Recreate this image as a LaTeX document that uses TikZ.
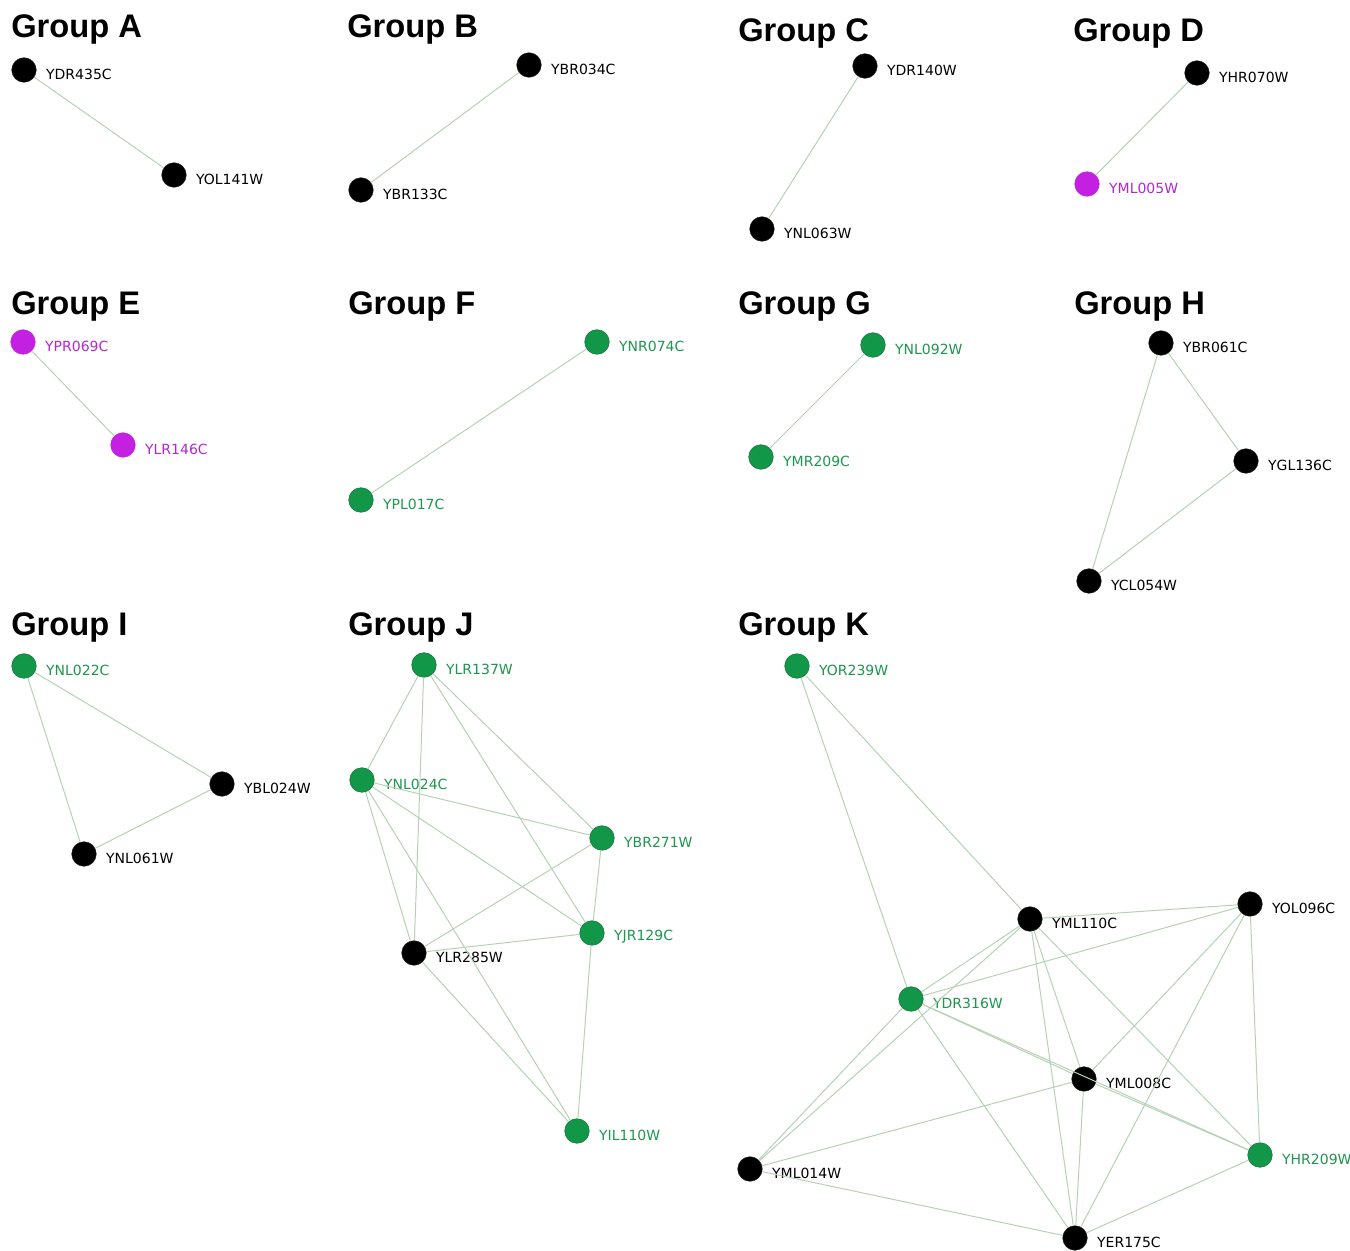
\documentclass[tikz,border=0pt]{standalone}
\usepackage{fontspec}
\setmainfont{Liberation Sans}
\newfontfamily\labfont{DejaVu Sans}
\definecolor{ecol}{RGB}{182,210,182}
\definecolor{gfill}{RGB}{18,150,72}
\definecolor{gtext}{RGB}{30,150,80}
\definecolor{mfill}{RGB}{196,32,226}
\definecolor{mtext}{RGB}{180,40,210}
\tikzset{
  nd/.style={circle, minimum size=18.5pt, inner sep=0pt, draw=black!85, line width=0.3pt},
  lab/.style={font=\labfont\fontsize{10.5}{12}\selectfont, inner sep=0pt, label distance=7pt, yshift=-3pt},
  blk/.style={nd, fill=black, label={[lab, text=black]right:#1}},
  grn/.style={nd, fill=gfill, draw=gfill!70!black, label={[lab, text=gtext]right:#1}},
  mag/.style={nd, fill=mfill, draw=mfill, label={[lab, text=mtext]right:#1}},
  ttl/.style={font=\bfseries\fontsize{24.5}{28}\selectfont, anchor=base west, inner sep=0pt},
  ed/.style={draw=ecol, line width=0.75pt}
}
\begin{document}
\begin{tikzpicture}[x=0.75pt, y=-0.75pt]
\useasboundingbox[fill=white] (0,0) rectangle (1350,1251);
% titles
\node[ttl] (tA) at (11,38) {Group A};
\node[ttl] (tB) at (347,38) {Group B};
\node[ttl] (tC) at (738,42) {Group C};
\node[ttl] (tD) at (1073,42) {Group D};
\node[ttl] (tE) at (11,315) {Group E};
\node[ttl] (tF) at (348,315) {Group F};
\node[ttl] (tG) at (738,315) {Group G};
\node[ttl] (tH) at (1074,315) {Group H};
\node[ttl] (tI) at (11,635) {Group I};
\node[ttl] (tJ) at (348,635) {Group J};
\node[ttl] (tK) at (738,635) {Group K};
% Group A
\node[blk=YDR435C] (a1) at (24,70) {};
\node[blk=YOL141W] (a2) at (174,175) {};
% Group B
\node[blk=YBR034C] (b1) at (529,65) {};
\node[blk=YBR133C] (b2) at (361,190) {};
% Group C
\node[blk=YDR140W] (c1) at (865,66) {};
\node[blk=YNL063W] (c2) at (762,229) {};
% Group D
\node[blk=YHR070W] (d1) at (1197,73) {};
\node[mag=YML005W] (d2) at (1087,184) {};
% Group E
\node[mag=YPR069C] (e1) at (23,342) {};
\node[mag=YLR146C] (e2) at (123,445) {};
% Group F
\node[grn=YNR074C] (f1) at (597,342) {};
\node[grn=YPL017C] (f2) at (361,500) {};
% Group G
\node[grn=YNL092W] (g1) at (873,345) {};
\node[grn=YMR209C] (g2) at (761,457) {};
% Group H
\node[blk=YBR061C] (h1) at (1161,343) {};
\node[blk=YGL136C] (h2) at (1246,461) {};
\node[blk=YCL054W] (h3) at (1089,581) {};
% Group I
\node[grn=YNL022C] (i1) at (24,666) {};
\node[blk=YBL024W] (i2) at (222,784) {};
\node[blk=YNL061W] (i3) at (84,854) {};
% Group J
\node[grn=YLR137W] (j1) at (424,665) {};
\node[grn=YNL024C] (j2) at (362,780) {};
\node[grn=YBR271W] (j3) at (602,838) {};
\node[grn=YJR129C] (j4) at (592,933) {};
\node[blk=YLR285W] (j5) at (414,953) {};
\node[grn=YIL110W] (j6) at (577,1131) {};
% Group K
\node[grn=YOR239W] (k1) at (797,666) {};
\node[blk=YML110C] (k2) at (1030,919) {};
\node[blk=YOL096C] (k3) at (1250,904) {};
\node[grn=YDR316W] (k4) at (911,999) {};
\node[blk=YML008C] (k5) at (1084,1079) {};
\node[blk=YML014W] (k6) at (750,1169) {};
\node[grn=YHR209W] (k7) at (1260,1155) {};
\node[blk=YER175C] (k8) at (1075,1238) {};
% edges
\foreach \u/\v in {a1/a2, b1/b2, c1/c2, d1/d2, e1/e2, f1/f2, g1/g2,
  h1/h2, h1/h3, h2/h3, i1/i2, i1/i3, i2/i3,
  j1/j2, j1/j5, j1/j3, j1/j4, j2/j3, j2/j4, j2/j5, j2/j6, j5/j3, j5/j4, j5/j6, j3/j4, j4/j6,
  k1/k2, k1/k4, k2/k3, k2/k4, k2/k6, k2/k5, k2/k8, k2/k7, k3/k4, k3/k5, k3/k8, k3/k7,
  k4/k5, k4/k7, k4/k8, k4/k6, k5/k6, k5/k8, k5/k7, k6/k8, k7/k8}
  \draw[ed] (\u) -- (\v);
\end{tikzpicture}
\end{document}
